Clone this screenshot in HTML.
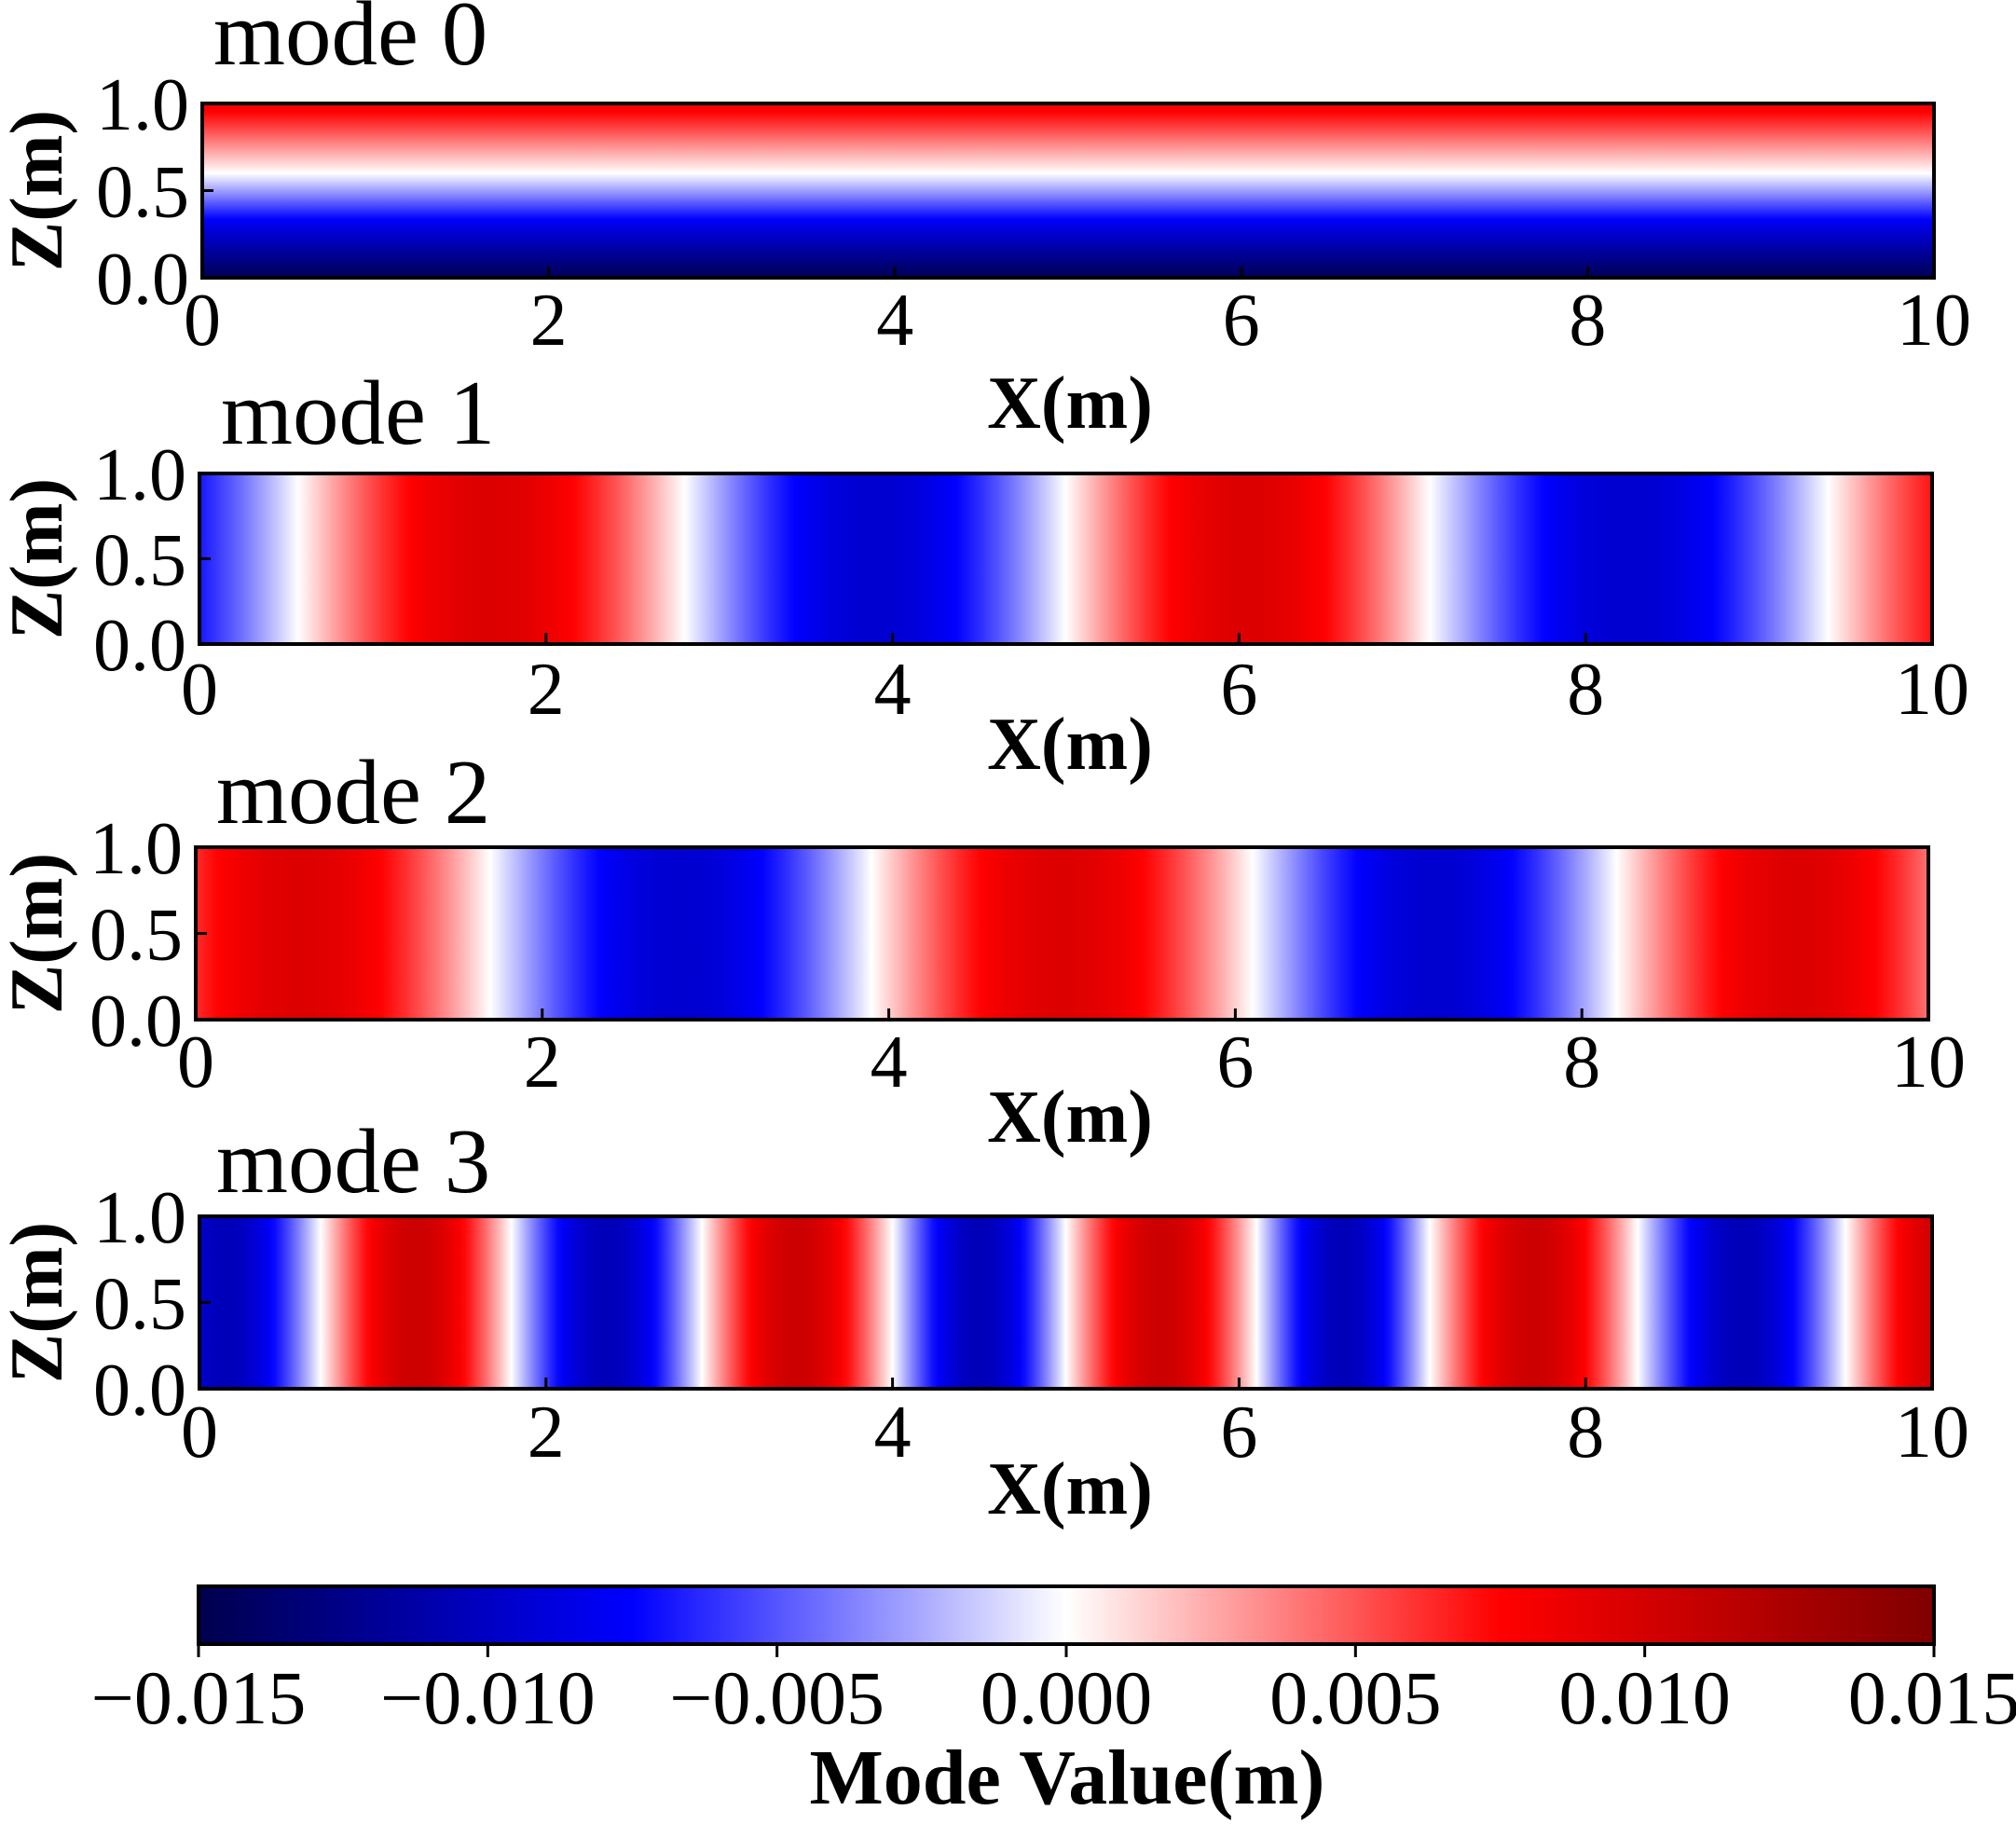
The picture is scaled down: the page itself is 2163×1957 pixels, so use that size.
<!DOCTYPE html>
<html><head><meta charset="utf-8">
<style>
html,body{margin:0;padding:0;background:#fff;}
svg{display:block;}
text{font-family:"Liberation Serif","DejaVu Serif",serif;fill:#000;}
</style></head>
<body>
<svg id="s" width="2163" height="1957" xmlns="http://www.w3.org/2000/svg"></svg>
<script>
function cmap(v){
  var t=(v+0.015)/0.03; t=Math.max(0,Math.min(1,t));
  var r,g,b;
  if(t<0.25){var u=t/0.25;r=0;g=0;b=0.3+0.7*u;}
  else if(t<0.5){var u=(t-0.25)/0.25;r=u;g=u;b=1;}
  else if(t<0.75){var u=(t-0.5)/0.25;r=1;g=1-u;b=1-u;}
  else {var u=(t-0.75)/0.25;r=1-0.5*u;g=0;b=0;}
  return 'rgb('+Math.round(r*255)+','+Math.round(g*255)+','+Math.round(b*255)+')';
}
function wave(zeros,sign,A){
  var pts=[-2*(zeros[1]-zeros[0])+zeros[0]].concat([zeros[0]-(zeros[1]-zeros[0])]).concat(zeros);
  var last=zeros[zeros.length-1], d=zeros[zeros.length-1]-zeros[zeros.length-2];
  pts.push(last+d,last+2*d);
  return function(x){
    for(var i=0;i<pts.length-1;i++){
      if(x>=pts[i]&&x<=pts[i+1]){
        var s=(i-2)%2===0? -sign: sign;
        if(i<2) s=(i===1)?sign:-sign;
        var ph=(x-pts[i])/(pts[i+1]-pts[i]);
        return s*A*Math.sin(Math.PI*ph);
      }
    }
    return 0;
  };
}
var S=document.getElementById('s'), out='', defs='';
var panels=[
 {l:217,r:2075,t:111,b:298,title:'mode 0',tx:229,ty:69,xb:370,xl:459},
 {l:214,r:2073,t:508,b:691,title:'mode 1',tx:237,ty:476,xb:766,xl:825,zeros:[0.57,2.8,5.0,7.1,9.4],sign:-1,A:0.0095},
 {l:210,r:2069,t:909,b:1094,title:'mode 2',tx:232,ty:883,xb:1166,xl:1225,zeros:[1.7,3.9,6.1,8.2],sign:1,A:0.0095},
 {l:214,r:2073,t:1305,b:1490,title:'mode 3',tx:232,ty:1279,xb:1563,xl:1624,zeros:[0.7,1.8,2.9,4.0,5.0,6.1,7.1,8.3,9.5],sign:-1,A:0.0105}
];
panels.forEach(function(p,k){
  var id='g'+k;
  if(k===0){
    defs+='<linearGradient id="'+id+'" x1="0" y1="0" x2="0" y2="1">';
    for(var i=0;i<=60;i++){var z=1-i/60,v;
      if(z>=0.6) v=0.0085*(z-0.6)/0.4; else if(z>=0.3) v=-0.0085*(0.6-z)/0.3; else v=-0.0085-0.0062*(0.3-z)/0.3;
      defs+='<stop offset="'+(i/60)+'" stop-color="'+cmap(v)+'"/>';}
    defs+='</linearGradient>';
  } else {
    var f=wave(p.zeros,p.sign,p.A);
    defs+='<linearGradient id="'+id+'" x1="0" y1="0" x2="1" y2="0">';
    for(var i=0;i<=300;i++){var x=10*i/300;defs+='<stop offset="'+(i/300)+'" stop-color="'+cmap(f(x))+'"/>';}
    defs+='</linearGradient>';
  }
  var w=p.r-p.l,h=p.b-p.t;
  out+='<rect x="'+p.l+'" y="'+p.t+'" width="'+w+'" height="'+h+'" fill="url(#'+id+')" stroke="#000" stroke-width="4"/>';
  out+='<text x="'+p.tx+'" y="'+p.ty+'" font-size="99">'+p.title+'</text>';
  for(var i=0;i<=5;i++){var x=p.l+w*i/5;
    out+='<line x1="'+x+'" y1="'+p.b+'" x2="'+x+'" y2="'+(p.b-12)+'" stroke="#000" stroke-width="3"/>';
    out+='<text x="'+x+'" y="'+p.xb+'" font-size="80" text-anchor="middle">'+(2*i)+'</text>';}
  ['0.0','0.5','1.0'].forEach(function(lbl,j){var y=p.b-h*j/2;
    out+='<line x1="'+p.l+'" y1="'+y+'" x2="'+(p.l+12)+'" y2="'+y+'" stroke="#000" stroke-width="3"/>';
    out+='<text x="'+(p.l-14)+'" y="'+(y+28)+'" font-size="80" text-anchor="end">'+lbl+'</text>';});
  out+='<text x="1148" y="'+p.xl+'" font-size="80" font-weight="bold" text-anchor="middle">X(m)</text>';
  var cy=(p.t+p.b)/2;
  out+='<text transform="translate(66,'+cy+') rotate(-90)" font-size="80" font-weight="bold" text-anchor="middle">Z(m)</text>';
});
defs+='<linearGradient id="cb" x1="0" y1="0" x2="1" y2="0">';
for(var i=0;i<=100;i++){defs+='<stop offset="'+(i/100)+'" stop-color="'+cmap(-0.015+0.03*i/100)+'"/>';}
defs+='</linearGradient>';
var cl=213,cr=2075,ct=1702,cbm=1764;
out+='<rect x="'+cl+'" y="'+ct+'" width="'+(cr-cl)+'" height="'+(cbm-ct)+'" fill="url(#cb)" stroke="#000" stroke-width="4"/>';
var labs=['\u22120.015','\u22120.010','\u22120.005','0.000','0.005','0.010','0.015'];
labs.forEach(function(l,i){var x=cl+(cr-cl)*i/6;
  out+='<line x1="'+x+'" y1="'+cbm+'" x2="'+x+'" y2="'+(cbm+14)+'" stroke="#000" stroke-width="3"/>';
  out+='<text x="'+x+'" y="1849" font-size="82" text-anchor="middle">'+l+'</text>';});
out+='<text x="1145" y="1935" font-size="84" font-weight="bold" text-anchor="middle">Mode Value(m)</text>';
S.innerHTML='<defs>'+defs+'</defs>'+out;
</script>
</body></html>
